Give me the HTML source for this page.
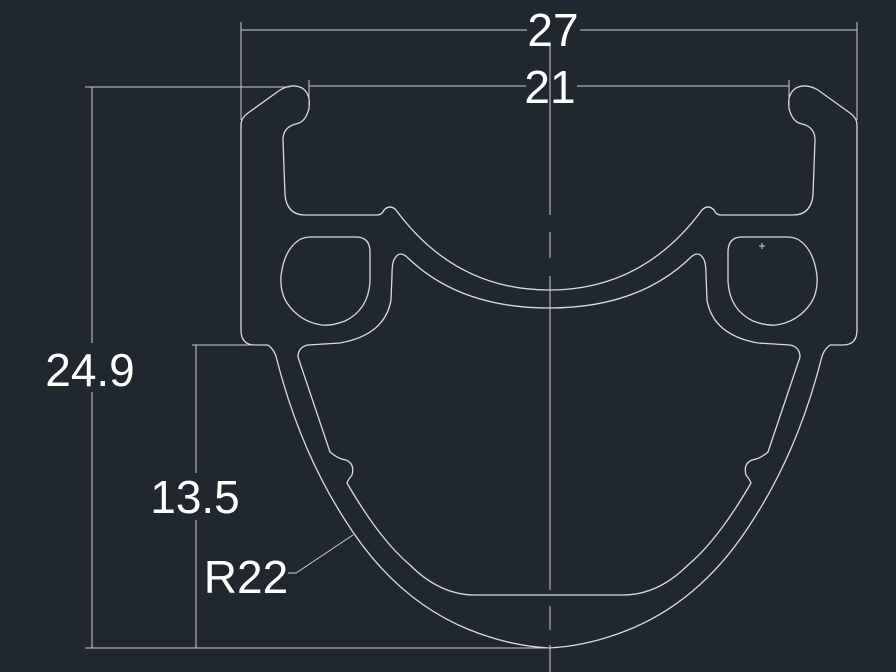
<!DOCTYPE html>
<html><head><style>
html,body{margin:0;padding:0;background:#21272f;}
svg{display:block}
text{font-family:"Liberation Sans",sans-serif;fill:#fff;font-size:46px}
</style></head><body>
<svg width="896" height="672" viewBox="0 0 896 672">
<rect width="896" height="672" fill="#21272f"/>
<g fill="none" stroke="#d8dbe0" stroke-width="1.3">
<g id="half">
<path d="M268 345 L255 345 Q241 345 241 330 L241 125 Q241 118 248 113 L280 90 Q292 83 302 88 Q311 94 309 108 Q306 122 296 124 Q283 127 283 140 L285 195 Q287 215 305 215 L377 215 Q382 215 384 210 Q390 204 396 210 Q455 290 549 290"/>
<path d="M549 308 Q460 308 408 258 Q400 250 395 258 Q392 262 392 275 L391 300 Q385 335 340 343 L308 345 Q298 347 298 357 L330 452 Q338 459 346 460 Q355 464 352 475 Q348 480 347 483 Q380 540 410 565 Q440 595 475 595 L549 595"/>
<path d="M268 345 Q275 350 277 360 Q300 450 345 520 Q395 600 470 630 Q510 646 549 648"/>
<path d="M311 237 L356 237 Q370 237 370 252 L370 282 Q368 310 345 321 Q332 326 322 325 Q300 322 287 303 Q280 292 281 276 Q284 250 299 240 Q304 237 311 237 Z"/>
</g>
<use href="#half" transform="translate(1098,0) scale(-1,1)"/>
</g>
<g stroke="#c9ccd2" stroke-width="1" fill="none">
<path d="M241 22 V120 M857 22 V120 M241 30 H527 M580 30 H857"/>
<path d="M309 80 V110 M789 80 V110 M309 86 H526 M577 86 H789"/>
<path d="M85 87 H290 M92 87 V343 M92 392 V648 M85 648 H550"/>
<path d="M192 345 H262 M196 345 V473 M196 520 V648"/>
<path d="M353 535 L296 573 H288"/>
<path d="M550 45 V215 M550 232 V258 M550 276 V590 M550 606 V630 M550 645 V672"/>
<path d="M759 246 H765 M762 243 V249"/>
</g>
<text x="553" y="46" text-anchor="middle">27</text>
<text x="550" y="103" text-anchor="middle">21</text>
<text x="90" y="386" text-anchor="middle">24.9</text>
<text x="195" y="513" text-anchor="middle">13.5</text>
<text x="246" y="593" text-anchor="middle">R22</text>
</svg>
</body></html>
